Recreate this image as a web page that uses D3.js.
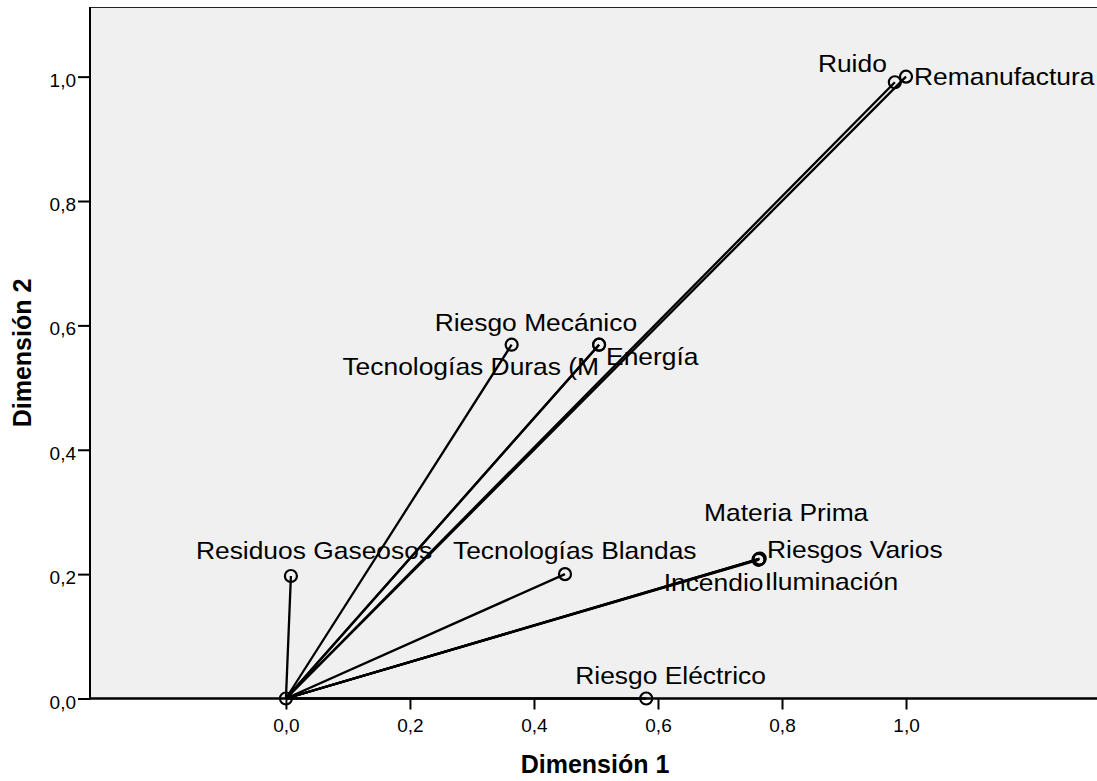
<!DOCTYPE html>
<html>
<head>
<meta charset="utf-8">
<script src="https://cdn.jsdelivr.net/npm/d3@7"></script>
<style>
  html, body { margin: 0; padding: 0; background: #ffffff; }
  svg { display: block; }
  text { font-family: Arial, "Liberation Sans", sans-serif; fill: #000; }
</style>
</head>
<body>
<svg id="chart" width="1097" height="781"></svg>
<script>
// ---- data ----
const categories = ["Residuos Gaseosos", "Riesgo Mecánico", "Tecnologías Duras (M", "Energía",
  "Tecnologías Blandas", "Materia Prima", "Riesgos Varios", "Incendio", "Iluminación",
  "Riesgo Eléctrico", "Ruido", "Remanufactura"];
const dim1 = [0.008, 0.364, 0.505, 0.505, 0.450, 0.763, 0.763, 0.762, 0.764, 0.581, 0.982, 1.000];
const dim2 = [0.197, 0.569, 0.569, 0.569, 0.200, 0.224, 0.224, 0.223, 0.225, 0.000, 0.991, 1.000];
// label placement relative to the point (anchor, dx, dy)
const labelAnchor = ["start", "start", "end", "start", "start", "start", "start", "end", "start", "start", "end", "start"];
const labelDx = [-95, -77, 0, 7, -112, -55, 8, 5, 5, -71, -8, 8];
const labelDy = [-17, -14, 30, 20, -15, -38, -1, 31, 31, -15, -10, 8];
const xTicks = [0.0, 0.2, 0.4, 0.6, 0.8, 1.0];
const yTicks = [0.0, 0.2, 0.4, 0.6, 0.8, 1.0];
const xTitle = "Dimensión 1";
const yTitle = "Dimensión 2";

const svg = d3.select("#chart");
const pLeft = 90, pRight = 1097, pTop = 7, pBottom = 698.5;

const x = d3.scaleLinear().domain([-0.316, 1.308]).range([pLeft, pRight]);
const y = d3.scaleLinear().domain([0, 1.112]).range([pBottom, pTop]);
const fmt = d => d.toFixed(1).replace(".", ",");

// plot background
svg.append("rect").attr("x", pLeft).attr("y", pTop)
  .attr("width", pRight - pLeft).attr("height", pBottom - pTop)
  .attr("fill", "#f0f0f0");
svg.append("line").attr("x1", pLeft).attr("x2", pRight).attr("y1", pTop + 0.5).attr("y2", pTop + 0.5)
  .attr("stroke", "#222").attr("stroke-width", 1.2);

// axes
const yAxis = svg.append("g").attr("transform", `translate(${pLeft},0)`)
  .call(d3.axisLeft(y).tickValues(yTicks).tickFormat(fmt).tickSize(12).tickPadding(2));
const xAxis = svg.append("g").attr("transform", `translate(0,${pBottom})`)
  .call(d3.axisBottom(x).tickValues(xTicks).tickFormat(fmt).tickSize(11).tickPadding(4));
[xAxis, yAxis].forEach(g => {
  g.select(".domain").remove();
  g.selectAll(".tick line").attr("stroke", "#000").attr("stroke-width", 2);
  g.selectAll(".tick text").attr("font-size", 19).attr("fill", "#000")
    .style("font-family", "Arial, 'Liberation Sans', sans-serif");
});
yAxis.selectAll(".tick text").attr("dy", "0.5em");
xAxis.selectAll(".tick text").attr("dy", "0.95em");

svg.append("line").attr("x1", pLeft).attr("x2", pLeft).attr("y1", pTop).attr("y2", pBottom + 1)
  .attr("stroke", "#000").attr("stroke-width", 2);
svg.append("line").attr("x1", pLeft).attr("x2", pRight).attr("y1", pBottom).attr("y2", pBottom)
  .attr("stroke", "#000").attr("stroke-width", 2.5);

// vectors from origin
const pts = categories.map((c, i) => ({ c, x: dim1[i], y: dim2[i], i }));
svg.append("g").selectAll("line").data(pts).join("line")
  .attr("x1", x(0)).attr("y1", y(0))
  .attr("x2", d => x(d.x)).attr("y2", d => y(d.y))
  .attr("stroke", "#000").attr("stroke-width", 2.3);

// markers
svg.append("circle").attr("cx", x(0)).attr("cy", y(0)).attr("r", 6)
  .attr("fill", "none").attr("stroke", "#000").attr("stroke-width", 2.2);
svg.append("g").selectAll("circle").data(pts).join("circle")
  .attr("cx", d => x(d.x)).attr("cy", d => y(d.y)).attr("r", 6)
  .attr("fill", "none").attr("stroke", "#000").attr("stroke-width", 2.2);

// labels
svg.append("g").selectAll("text").data(pts).join("text")
  .attr("transform", d => `translate(${x(d.x) + labelDx[d.i]},${y(d.y) + labelDy[d.i]}) scale(1.1,1)`)
  .attr("text-anchor", d => labelAnchor[d.i])
  .attr("font-size", 24)
  .text(d => d.c);

// axis titles
svg.append("text").attr("x", 595).attr("y", 773).attr("text-anchor", "middle")
  .attr("font-size", 25).attr("font-weight", "bold").text(xTitle);
svg.append("text").attr("transform", "translate(31,353) rotate(-90)").attr("text-anchor", "middle")
  .attr("font-size", 25).attr("font-weight", "bold").text(yTitle);
</script>
</body>
</html>
